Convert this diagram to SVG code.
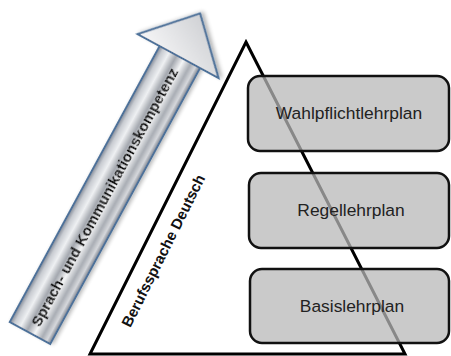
<svg xmlns="http://www.w3.org/2000/svg" width="451" height="356" viewBox="0 0 451 356">
<defs>
<linearGradient id="body" x1="0" y1="0" x2="0" y2="1">
<stop offset="0" stop-color="#7f8794"/>
<stop offset="0.1" stop-color="#c9ccd2"/>
<stop offset="0.25" stop-color="#eef0f2"/>
<stop offset="0.42" stop-color="#a3a7ae"/>
<stop offset="0.6" stop-color="#f4f5f6"/>
<stop offset="0.78" stop-color="#a9adb4"/>
<stop offset="0.9" stop-color="#d6d8dc"/>
<stop offset="1" stop-color="#7a808b"/>
</linearGradient>
<linearGradient id="head" x1="0" y1="0" x2="1" y2="1">
<stop offset="0" stop-color="#f6f6f7"/>
<stop offset="1" stop-color="#c3c5c9"/>
</linearGradient>
<filter id="sh" x="-20%" y="-20%" width="140%" height="140%">
<feGaussianBlur in="SourceAlpha" stdDeviation="2"/>
<feOffset dx="2" dy="2"/>
<feComponentTransfer><feFuncA type="linear" slope="0.3"/></feComponentTransfer>
<feMerge><feMergeNode/><feMergeNode in="SourceGraphic"/></feMerge>
</filter>
</defs>
<style>
.box{fill:#b8b8b8;fill-opacity:0.74;stroke:#111;stroke-width:2.5}
.lbl{font-family:"Liberation Sans",Arial,sans-serif;font-size:17.4px;fill:#222;text-anchor:middle}
.bold{font-family:"Liberation Sans",Arial,sans-serif;font-weight:bold;fill:#111;text-anchor:middle}
.arr{stroke:#4d7199;stroke-width:2;stroke-linejoin:miter}
</style>
<g id="triangle">
<polygon points="246,42 405,354 90,354" fill="#fff" stroke="#000" stroke-width="3" stroke-linejoin="miter"/>
<text class="bold" font-size="15" transform="translate(168,253) rotate(-63.4)" x="0" y="0">Berufssprache Deutsch</text>
</g>
<g id="arrow" transform="translate(30,333) rotate(-61.5)" filter="url(#sh)">
<rect class="arr" x="0" y="-23" width="316" height="46" fill="url(#body)"/>
<polygon class="arr" points="314,-48 362,-3 314,44 314,23 314,-23" fill="url(#head)"/>
<text class="bold" font-size="15" x="155" y="5.5">Sprach- und Kommunikationskompetenz</text>
</g>
<g id="wahlpflicht">
<rect class="box" x="248" y="76" width="201" height="75" rx="12"/>
<text class="lbl" x="349" y="119">Wahlpflichtlehrplan</text>
</g>
<g id="regel">
<rect class="box" x="249" y="173" width="200" height="75" rx="12"/>
<text class="lbl" x="351" y="216">Regellehrplan</text>
</g>
<g id="basis">
<rect class="box" x="250" y="269" width="199" height="74" rx="12"/>
<text class="lbl" x="352" y="312">Basislehrplan</text>
</g>
</svg>
